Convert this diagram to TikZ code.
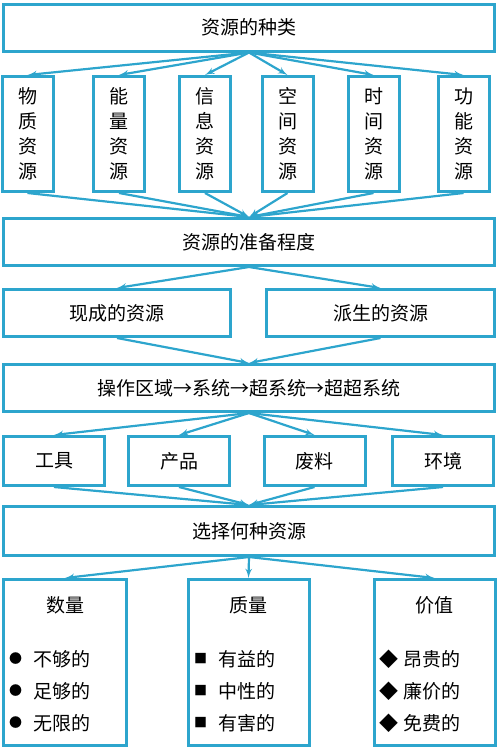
\documentclass[tikz,border=0pt]{standalone}
\usepackage{fontspec}
\setmainfont{Noto Sans CJK SC}
\usetikzlibrary{shapes,arrows}
\definecolor{boxblue}{RGB}{45,165,205}
\tikzstyle{block} = [rectangle, draw=boxblue, line width=3pt, fill=white,
    inner sep=0pt, minimum height=47pt, font=\fontsize{19}{25}\selectfont]
\tikzstyle{wide} = [block, minimum width=491pt]
\tikzstyle{tall} = [block, minimum width=51pt, minimum height=115pt, align=center]
\tikzstyle{small} = [block, minimum width=101pt, minimum height=49pt]
\tikzstyle{panel} = [block, minimum width=121pt, minimum height=166pt]
\tikzstyle{title} = [inner sep=0pt, font=\fontsize{19}{25}\selectfont]
\tikzstyle{list} = [inner sep=0pt, anchor=west, align=left,
    font=\fontsize{19}{32}\selectfont]
\tikzstyle{line} = [draw=boxblue, line width=2.2pt, -latex']
\newcommand{\dotmark}{\raisebox{2.3pt}{\fontsize{13}{13}\selectfont ●}\hspace{11pt}}
\newcommand{\boxmark}{\raisebox{2.3pt}{\fontsize{13}{13}\selectfont ■}\hspace{11pt}}
\newcommand{\gemmark}{◆\hspace{5pt}}

\begin{document}
\begin{tikzpicture}[x=1pt, y=-1pt]
    \useasboundingbox (0,0) rectangle (502,753);
    % Place nodes
    \node [wide] (kinds) at (249,27.5) {资源的种类};
    \node [tall] (matter) at (27.5,134) {物\\质\\资\\源};
    \node [tall] (energy) at (119,134) {能\\量\\资\\源};
    \node [tall] (info) at (205,134) {信\\息\\资\\源};
    \node [tall] (space) at (287.5,134) {空\\间\\资\\源};
    \node [tall] (time) at (373.5,134) {时\\间\\资\\源};
    \node [tall] (func) at (463.5,134) {功\\能\\资\\源};
    \node [wide] (ready) at (249,242) {资源的准备程度};
    \node [block, minimum width=227pt] (existing) at (117,313) {现成的资源};
    \node [block, minimum width=228pt] (derived) at (380.5,313) {派生的资源};
    \node [wide] (levels) at (249,388) {操作区域→系统→超系统→超超系统};
    \node [small] (tool) at (54,461) {工具};
    \node [small] (product) at (179,461) {产品};
    \node [small] (waste) at (314.5,461) {废料};
    \node [small] (environ) at (443,461) {环境};
    \node [wide, minimum height=49pt] (choose) at (249,531) {选择何种资源};
    \node [panel, minimum width=123pt] (amount) at (65,662.5) {};
    \node [panel] (quality) at (248.5,662.5) {};
    \node [panel] (value) at (434.5,662.5) {};
    \node [title] (amountTitle) at (65,605) {数量};
    \node [title] (qualityTitle) at (248.5,605) {质量};
    \node [title] (valueTitle) at (434.5,605) {价值};
    \node [list] (amountList) at (9,691) {\dotmark 不够的\\\dotmark 足够的\\\dotmark 无限的};
    \node [list] (qualityList) at (194,691) {\boxmark 有益的\\\boxmark 中性的\\\boxmark 有害的};
    \node [list] (valueList) at (379,691) {\gemmark 昂贵的\\\gemmark 廉价的\\\gemmark 免费的};
    % Draw edges
    \path [line] (kinds.south) -- (matter.north);
    \path [line] (kinds.south) -- (energy.north);
    \path [line] (kinds.south) -- (info.north);
    \path [line] (kinds.south) -- (space.north);
    \path [line] (kinds.south) -- (time.north);
    \path [line] (kinds.south) -- (func.north);
    \path [line] (matter.south) -- (ready.north);
    \path [line] (energy.south) -- (ready.north);
    \path [line] (info.south) -- (ready.north);
    \path [line] (space.south) -- (ready.north);
    \path [line] (time.south) -- (ready.north);
    \path [line] (func.south) -- (ready.north);
    \path [line] (ready.south) -- (existing.north);
    \path [line] (ready.south) -- (derived.north);
    \path [line] (existing.south) -- (levels.north);
    \path [line] (derived.south) -- (levels.north);
    \path [line] (levels.south) -- (tool.north);
    \path [line] (levels.south) -- (product.north);
    \path [line] (levels.south) -- (waste.north);
    \path [line] (levels.south) -- (environ.north);
    \path [line] (tool.south) -- (choose.north);
    \path [line] (product.south) -- (choose.north);
    \path [line] (waste.south) -- (choose.north);
    \path [line] (environ.south) -- (choose.north);
    \path [line] (choose.south) -- (amount.north);
    \path [line] (choose.south) -- (quality.north);
    \path [line] (choose.south) -- (value.north);
\end{tikzpicture}
\end{document}
